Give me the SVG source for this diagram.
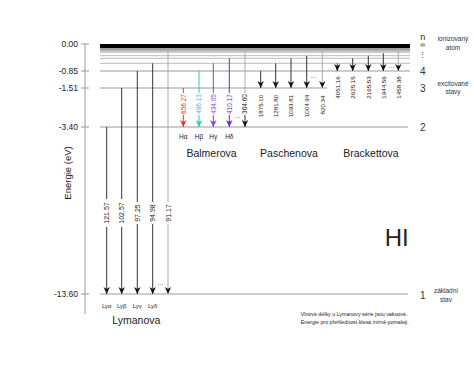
<svg xmlns="http://www.w3.org/2000/svg" width="474" height="379" viewBox="0 0 474 379">
<style>
text{font-family:"Liberation Sans",Arial,sans-serif;fill:#222}
.lvl{stroke:#999;stroke-width:1;fill:none}
.thin{stroke:#aaa;stroke-width:0.8;fill:none}
.ax{stroke:#999;stroke-width:1;fill:none}
.tick{font-size:8.5px;text-anchor:end}
.ar{stroke:#333;stroke-width:1;fill:none;marker-end:url(#mk)}
.ln{stroke:#333;stroke-width:1;fill:none}
.gr{stroke:#aaa;stroke-width:1;fill:none}
.num{font-size:6.5px;text-anchor:middle}
.lab{font-size:6.5px;text-anchor:middle}
.ser{font-size:10.5px;text-anchor:middle}
.side{font-size:6.5px;text-anchor:middle;fill:#333}
.nn{font-size:10px;text-anchor:middle;fill:#333}
.dots{font-size:7px;text-anchor:middle;fill:#666}
</style>
<defs>
<marker id="mk" markerUnits="userSpaceOnUse" viewBox="-8 -4 9 8" refX="0" refY="0" markerWidth="9" markerHeight="8" orient="auto"><path d="M0,0 L-7,-3.2 L-5,0 L-7,3.2 Z" fill="#111"/></marker>
<marker id="mkR" markerUnits="userSpaceOnUse" viewBox="-8 -4 9 8" refX="0" refY="0" markerWidth="9" markerHeight="8" orient="auto"><path d="M0,0 L-7,-3.2 L-5,0 L-7,3.2 Z" fill="#f03030"/></marker>
<marker id="mkC" markerUnits="userSpaceOnUse" viewBox="-8 -4 9 8" refX="0" refY="0" markerWidth="9" markerHeight="8" orient="auto"><path d="M0,0 L-7,-3.2 L-5,0 L-7,3.2 Z" fill="#2cc8b8"/></marker>
<marker id="mkP" markerUnits="userSpaceOnUse" viewBox="-8 -4 9 8" refX="0" refY="0" markerWidth="9" markerHeight="8" orient="auto"><path d="M0,0 L-7,-3.2 L-5,0 L-7,3.2 Z" fill="#8a3ce0"/></marker>
<marker id="mkQ" markerUnits="userSpaceOnUse" viewBox="-8 -4 9 8" refX="0" refY="0" markerWidth="9" markerHeight="8" orient="auto"><path d="M0,0 L-7,-3.2 L-5,0 L-7,3.2 Z" fill="#6f28b8"/></marker>
<linearGradient id="band" x1="0" y1="0" x2="0" y2="1"><stop offset="0" stop-color="#909090"/><stop offset="1" stop-color="#e0e0e0"/></linearGradient>
</defs>

<g id="axis">
<line class="ax" x1="85" y1="44" x2="85" y2="314"/>
<line class="ax" x1="81" y1="44" x2="89" y2="44"/>
<line class="ax" x1="81" y1="71" x2="89" y2="71"/>
<line class="ax" x1="81" y1="88" x2="89" y2="88"/>
<line class="ax" x1="81" y1="127" x2="89" y2="127"/>
<line class="ax" x1="81" y1="294" x2="89" y2="294"/>
<text class="tick" x="78" y="47">0.00</text>
<text class="tick" x="78" y="74">-0.85</text>
<text class="tick" x="78" y="91">-1.51</text>
<text class="tick" x="78" y="130">-3.40</text>
<text class="tick" x="78" y="297">-13.60</text>
<text x="71" y="173" font-size="9.5" text-anchor="middle" transform="rotate(-90 71 173)">Energie (eV)</text>
</g>

<g id="levels">
<rect x="100" y="44" width="310" height="4.3" fill="#000"/>
<rect x="100" y="48.3" width="310" height="5" fill="url(#band)"/>
<line class="thin" x1="100" y1="55.7" x2="410" y2="55.7"/>
<line class="thin" x1="100" y1="58.3" x2="410" y2="58.3"/>
<line class="thin" x1="100" y1="63.3" x2="410" y2="63.3"/>
<line class="lvl" x1="100" y1="71" x2="410" y2="71"/>
<line class="lvl" x1="100" y1="88" x2="327" y2="88"/>
<line class="lvl" x1="100" y1="127" x2="408" y2="127"/>
<line class="lvl" x1="100" y1="294" x2="408" y2="294"/>
</g>

<g id="labels-right">
<text x="422.7" y="40" font-size="9" text-anchor="middle" fill="#333">n</text>
<text x="422.7" y="47" font-size="7" text-anchor="middle" fill="#888">∞</text>
<text x="422.7" y="57" font-size="7" text-anchor="middle" fill="#888">⋮</text>
<text class="nn" x="422.7" y="74.5">4</text>
<text class="nn" x="422.7" y="91.5">3</text>
<text class="nn" x="422.7" y="130.5">2</text>
<text class="nn" x="422.7" y="299">1</text>
<text class="side" x="453" y="41">ionizovaný</text>
<text class="side" x="453" y="50">atom</text>
<text class="side" x="453" y="85.5">excitované</text>
<text class="side" x="453" y="94">stavy</text>
<text class="side" x="446" y="293">základní</text>
<text class="side" x="446" y="301.5">stav</text>
</g>

<g id="connectors">
<!-- Lyman -->
<line class="ln" x1="106.7" y1="127" x2="106.7" y2="199"/>
<line class="ar" x1="106.7" y1="227" x2="106.7" y2="294"/>
<line class="ln" x1="121.7" y1="88" x2="121.7" y2="199"/>
<line class="ar" x1="121.7" y1="227" x2="121.7" y2="294"/>
<line class="ln" x1="137.3" y1="71" x2="137.3" y2="202"/>
<line class="ar" x1="137.3" y1="224" x2="137.3" y2="294"/>
<line class="ln" x1="152.7" y1="63.3" x2="152.7" y2="202"/>
<line class="ar" x1="152.7" y1="224" x2="152.7" y2="294"/>
<line class="gr" x1="168" y1="48" x2="168" y2="202"/>
<line class="ar" style="stroke:#aaa" x1="168" y1="224" x2="168" y2="294"/>
<!-- Balmer -->
<line x1="183.3" y1="88" x2="183.3" y2="93" stroke="#f03030"/>
<line x1="183.3" y1="115" x2="183.3" y2="127" stroke="#f03030" marker-end="url(#mkR)"/>
<line x1="199" y1="71" x2="199" y2="93" stroke="#2cc8b8"/>
<line x1="199" y1="115" x2="199" y2="127" stroke="#2cc8b8" marker-end="url(#mkC)"/>
<line x1="213.3" y1="63.3" x2="213.3" y2="93" stroke="#8a3ce0"/>
<line x1="213.3" y1="115" x2="213.3" y2="127" stroke="#8a3ce0" marker-end="url(#mkP)"/>
<line x1="229.3" y1="58.3" x2="229.3" y2="93" stroke="#6f28b8"/>
<line x1="229.3" y1="115" x2="229.3" y2="127" stroke="#6f28b8" marker-end="url(#mkQ)"/>
<line class="gr" x1="245" y1="48" x2="245" y2="93"/>
<line class="ar" x1="245" y1="115" x2="245" y2="127"/>
<!-- Paschen -->
<line class="ar" x1="260.7" y1="71" x2="260.7" y2="88"/>
<line class="ar" x1="275.7" y1="63.3" x2="275.7" y2="88"/>
<line class="ar" x1="291" y1="58.3" x2="291" y2="88"/>
<line class="ar" x1="306.7" y1="55.7" x2="306.7" y2="88"/>
<line class="ar" style="stroke:#aaa" x1="322.3" y1="48" x2="322.3" y2="88"/>
<!-- Brackett -->
<line class="ar" x1="337.3" y1="63.3" x2="337.3" y2="71"/>
<line class="ar" x1="352.7" y1="58.3" x2="352.7" y2="71"/>
<line class="ar" x1="368.3" y1="55.7" x2="368.3" y2="71"/>
<line class="ar" x1="383.3" y1="53.3" x2="383.3" y2="71"/>
<line class="ar" style="stroke:#aaa" x1="398.3" y1="48" x2="398.3" y2="71"/>
</g>

<g id="lyman">
<text x="109.2" y="213" font-size="7" text-anchor="middle" transform="rotate(-90 109.2 213)">121.57</text>
<text x="124.2" y="213" font-size="7" text-anchor="middle" transform="rotate(-90 124.2 213)">102.57</text>
<text x="139.8" y="213" font-size="7" text-anchor="middle" transform="rotate(-90 139.8 213)">97.25</text>
<text x="155.2" y="213" font-size="7" text-anchor="middle" transform="rotate(-90 155.2 213)">94.98</text>
<text x="170.5" y="213" font-size="7" text-anchor="middle" transform="rotate(-90 170.5 213)">91.17</text>
<text class="dots" x="160.5" y="285">...</text>
<text x="106.7" y="308" font-size="6" text-anchor="middle">Lyα</text>
<text x="121.7" y="308" font-size="6" text-anchor="middle">Lyβ</text>
<text x="137.3" y="308" font-size="6" text-anchor="middle">Lyγ</text>
<text x="152.7" y="308" font-size="6" text-anchor="middle">Lyδ</text>
<text class="ser" x="136.3" y="324">Lymanova</text>
</g>

<g id="balmer">
<text x="185.6" y="104" font-size="6.5" text-anchor="middle" fill="#f03030" style="fill:#f03030" transform="rotate(-90 185.6 104)">656.27</text>
<text x="201.3" y="104" font-size="6.5" text-anchor="middle" style="fill:#2cc8b8" transform="rotate(-90 201.3 104)">486.13</text>
<text x="215.6" y="104" font-size="6.5" text-anchor="middle" style="fill:#8a3ce0" transform="rotate(-90 215.6 104)">434.05</text>
<text x="231.6" y="104" font-size="6.5" text-anchor="middle" style="fill:#6f28b8" transform="rotate(-90 231.6 104)">410.17</text>
<text x="247.3" y="104" font-size="6.5" text-anchor="middle" transform="rotate(-90 247.3 104)">364.60</text>
<text class="dots" x="237.3" y="118">...</text>
<text class="lab" x="183.3" y="139">Hα</text>
<text class="lab" x="199" y="139">Hβ</text>
<text class="lab" x="213.3" y="139">Hγ</text>
<text class="lab" x="229.3" y="139">Hδ</text>
<text class="ser" x="211.5" y="157">Balmerova</text>
</g>

<g id="paschen">
<text x="262.9" y="106" font-size="6.2" text-anchor="middle" transform="rotate(-90 262.9 106)">1875.10</text>
<text x="277.9" y="106" font-size="6.2" text-anchor="middle" transform="rotate(-90 277.9 106)">1281.80</text>
<text x="293.2" y="106" font-size="6.2" text-anchor="middle" transform="rotate(-90 293.2 106)">1093.81</text>
<text x="308.9" y="106" font-size="6.2" text-anchor="middle" transform="rotate(-90 308.9 106)">1004.94</text>
<text x="324.5" y="105" font-size="6.2" text-anchor="middle" transform="rotate(-90 324.5 105)">820.34</text>
<text class="dots" x="313.5" y="78">...</text>
<text class="ser" x="289" y="157">Paschenova</text>
</g>

<g id="brackett">
<text x="339.5" y="87.5" font-size="6.2" text-anchor="middle" transform="rotate(-90 339.5 87.5)">4051.16</text>
<text x="354.9" y="87.5" font-size="6.2" text-anchor="middle" transform="rotate(-90 354.9 87.5)">2625.15</text>
<text x="370.5" y="87.5" font-size="6.2" text-anchor="middle" transform="rotate(-90 370.5 87.5)">2165.53</text>
<text x="385.5" y="87.5" font-size="6.2" text-anchor="middle" transform="rotate(-90 385.5 87.5)">1944.56</text>
<text x="400.5" y="87.5" font-size="6.2" text-anchor="middle" transform="rotate(-90 400.5 87.5)">1458.38</text>
<text class="dots" x="391.7" y="67.5">...</text>
<text class="ser" x="371" y="157">Brackettova</text>
</g>

<g id="title">
<text x="396.7" y="246" font-size="24" text-anchor="middle" fill="#111">HI</text>
</g>

<g id="note">
<text x="300.7" y="316" font-size="5.3">Vlnové délky u Lymanovy série jsou vakuové.</text>
<text x="300.7" y="324" font-size="5.3">Energie pro přehlednost klesá mírně pomaleji.</text>
</g>
</svg>
